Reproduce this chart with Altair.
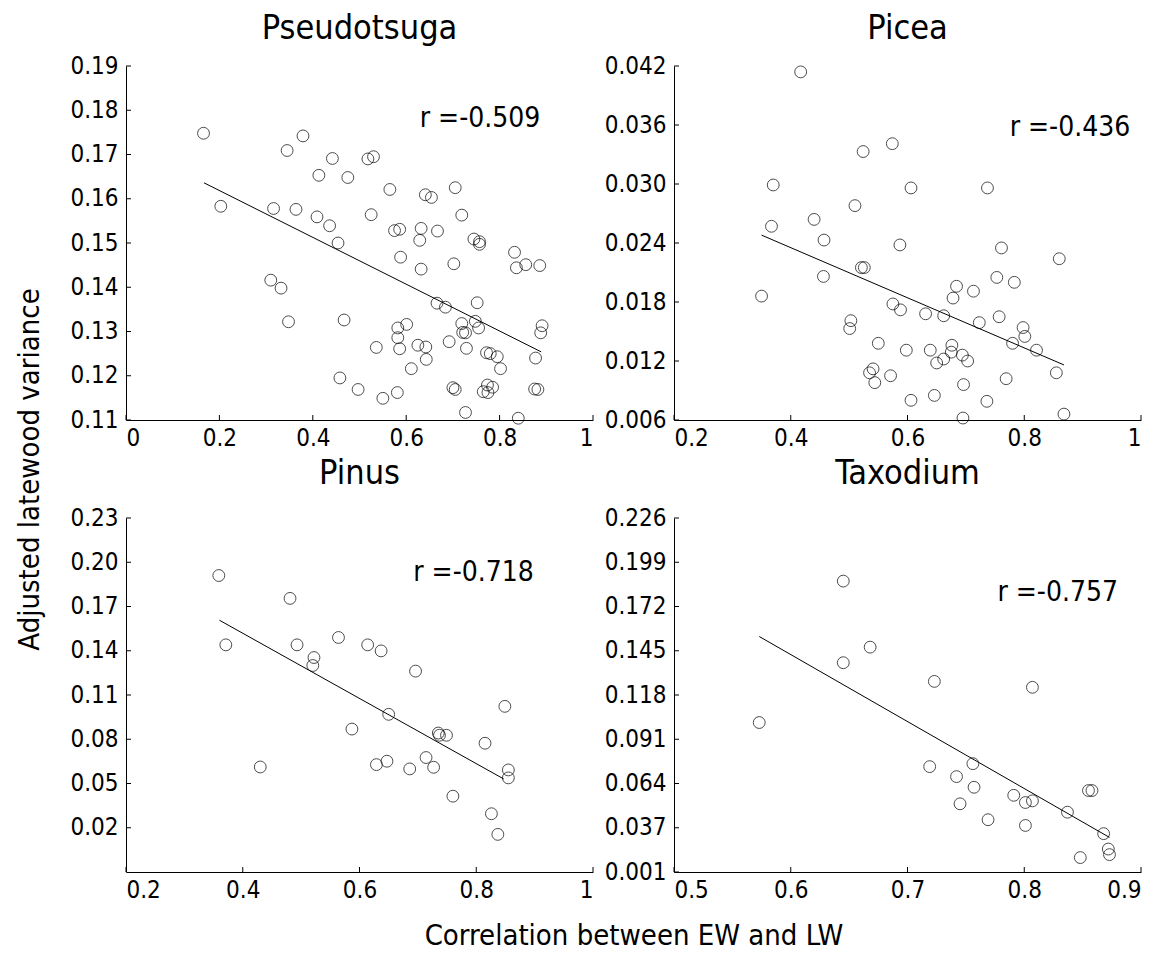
import altair as alt
import pandas as pd

FONT = "DejaVu Sans Condensed"

# ---- Pseudotsuga ----
pseu_x = [0.166, 0.203, 0.310, 0.332, 0.348, 0.316, 0.345, 0.379, 0.364, 0.409,
          0.413, 0.442, 0.436, 0.454, 0.475, 0.467, 0.458, 0.497, 0.518, 0.530,
          0.525, 0.536, 0.550, 0.565, 0.575, 0.586, 0.588, 0.582, 0.582, 0.586,
          0.581, 0.601, 0.611, 0.625, 0.642, 0.643, 0.632, 0.629, 0.632, 0.641,
          0.654, 0.667, 0.666, 0.684, 0.692, 0.705, 0.719, 0.702, 0.700, 0.705,
          0.727, 0.719, 0.721, 0.727, 0.729, 0.745, 0.757, 0.757, 0.752, 0.748,
          0.755, 0.772, 0.780, 0.795, 0.802, 0.774, 0.785, 0.765, 0.775, 0.832,
          0.836, 0.856, 0.886, 0.877, 0.891, 0.888, 0.875, 0.882, 0.840]
pseu_y = [0.1748, 0.1583, 0.1416, 0.1398, 0.1322, 0.1578, 0.1709, 0.1742, 0.1576, 0.1559,
          0.1653, 0.1691, 0.1539, 0.1500, 0.1648, 0.1326, 0.1195, 0.1169, 0.1690, 0.1695,
          0.1564, 0.1264, 0.1149, 0.1621, 0.1528, 0.1531, 0.1468, 0.1308, 0.1286, 0.1261,
          0.1162, 0.1316, 0.1216, 0.1269, 0.1265, 0.1237, 0.1533, 0.1506, 0.1441, 0.1609,
          0.1603, 0.1527, 0.1364, 0.1355, 0.1277, 0.1625, 0.1563, 0.1453, 0.1173, 0.1169,
          0.1117, 0.1318, 0.1298, 0.1297, 0.1262, 0.1509, 0.1503, 0.1497, 0.1365, 0.1323,
          0.1308, 0.1252, 0.1250, 0.1243, 0.1216, 0.1179, 0.1174, 0.1164, 0.1162, 0.1479,
          0.1444, 0.1451, 0.1449, 0.1240, 0.1313, 0.1297, 0.1170, 0.1169, 0.1104]
pseu_fit_x = [0.167, 0.889]
pseu_fit_y = [0.1636, 0.1254]

# ---- Picea ----
picea_x = [0.417, 0.370, 0.367, 0.350, 0.440, 0.457, 0.456, 0.510, 0.524, 0.521,
           0.526, 0.503, 0.501, 0.550, 0.541, 0.535, 0.544, 0.574, 0.587, 0.575,
           0.588, 0.571, 0.606, 0.598, 0.606, 0.631, 0.639, 0.650, 0.646, 0.662,
           0.662, 0.676, 0.675, 0.684, 0.678, 0.694, 0.703, 0.696, 0.695, 0.713,
           0.723, 0.737, 0.736, 0.761, 0.753, 0.757, 0.769, 0.783, 0.780, 0.798,
           0.801, 0.821, 0.860, 0.855, 0.868]
picea_y = [0.0414, 0.0299, 0.0257, 0.0186, 0.0264, 0.0243, 0.0206, 0.0278, 0.0333, 0.0215,
           0.0215, 0.0161, 0.0153, 0.0138, 0.0112, 0.0108, 0.0098, 0.0341, 0.0238, 0.0178,
           0.0172, 0.0105, 0.0296, 0.0131, 0.0080, 0.0168, 0.0131, 0.0118, 0.0085, 0.0166,
           0.0122, 0.0136, 0.0129, 0.0196, 0.0184, 0.0126, 0.0120, 0.0096, 0.0062, 0.0191,
           0.0159, 0.0296, 0.0079, 0.0235, 0.0205, 0.0165, 0.0102, 0.0200, 0.0138, 0.0154,
           0.0145, 0.0131, 0.0224, 0.0108, 0.0066]
picea_fit_x = [0.350, 0.868]
picea_fit_y = [0.0248, 0.0116]

# ---- Pinus ----
pinus_x = [0.359, 0.371, 0.430, 0.481, 0.493, 0.522, 0.520, 0.564, 0.587, 0.614,
           0.637, 0.650, 0.629, 0.647, 0.686, 0.696, 0.714, 0.727, 0.735, 0.737,
           0.749, 0.760, 0.815, 0.826, 0.837, 0.849, 0.855, 0.855]
pinus_y = [0.191, 0.144, 0.0612, 0.1755, 0.144, 0.1354, 0.130, 0.149, 0.0869, 0.144,
           0.1399, 0.0969, 0.0628, 0.0651, 0.0599, 0.1262, 0.0676, 0.0610, 0.0842, 0.0827,
           0.0827, 0.0414, 0.0773, 0.0295, 0.0155, 0.1023, 0.0592, 0.0538]
pinus_fit_x = [0.360, 0.847]
pinus_fit_y = [0.1607, 0.0531]

# ---- Taxodium ----
taxo_x = [0.573, 0.645, 0.645, 0.668, 0.723, 0.807, 0.719, 0.756, 0.742, 0.757,
          0.745, 0.769, 0.791, 0.801, 0.807, 0.801, 0.837, 0.855, 0.858, 0.868,
          0.872, 0.873, 0.848]
taxo_y = [0.1012, 0.1875, 0.1377, 0.1472, 0.1263, 0.1227, 0.0743, 0.0761, 0.0682, 0.0617,
          0.0516, 0.0419, 0.0568, 0.0524, 0.0534, 0.0384, 0.0465, 0.0597, 0.0597, 0.0334,
          0.0240, 0.0206, 0.0188]
taxo_fit_x = [0.573, 0.873]
taxo_fit_y = [0.1537, 0.0311]

# correlation labels
r_values = {"Pseudotsuga": -0.509, "Picea": -0.436, "Pinus": -0.718, "Taxodium": -0.757}

X_TITLE = "Correlation between EW and LW"
Y_TITLE = "Adjusted latewood variance"

W, H = 467, 354
GAP_COL, GAP_ROW = 81, 98
TICK = 5


def panel(name, xs, ys, fx, fy, xdom, ydom, xticks, yticks, xfmt, yfmt,
          rpos, ylabel_expr=None, xtitle=None, ytitle=None, title_offset=8):
    pts = pd.DataFrame({"x": xs, "y": ys})
    fit = pd.DataFrame({"x": fx, "y": fy})
    xs_ = alt.Scale(domain=xdom, nice=False, zero=False)
    ys_ = alt.Scale(domain=ydom, nice=False, zero=False)
    ax_common = dict(grid=False, tickSize=0, domainColor="black",
                     domainWidth=1, labelColor="black", labelFont=FONT,
                     labelFontSize=24, titleFont=FONT, titleFontSize=29,
                     titleFontWeight="normal", titleColor="black")
    xkw = dict(values=xticks, format=xfmt, labelPadding=6, **ax_common)
    if xtitle:
        # shared title centred under both columns
        xkw.update(title=xtitle, titleX=(2 * W + GAP_COL) / 2, titleY=72,
                   titleAnchor="middle", titleAlign="center",
                   titleBaseline="alphabetic")
    else:
        xkw["title"] = None
    ykw = dict(values=yticks, format=yfmt, labelPadding=8, **ax_common)
    if ytitle:
        # shared title centred beside both rows
        ykw.update(title=ytitle, titleAngle=270, titleX=-88,
                   titleY=(2 * H + GAP_ROW) / 2, titleAlign="center",
                   titleBaseline="alphabetic")
    else:
        ykw["title"] = None
    if ylabel_expr:
        ykw["labelExpr"] = ylabel_expr
    X = alt.X("x:Q", scale=xs_, axis=alt.Axis(**xkw))
    Y = alt.Y("y:Q", scale=ys_, axis=alt.Axis(**ykw))

    dots = alt.Chart(pts).mark_point(shape="circle", filled=False, size=140,
                                      color="black", strokeWidth=1).encode(x=X, y=Y)
    line = alt.Chart(fit).mark_line(color="black", strokeWidth=1).encode(x=X, y=Y)
    xt = alt.Chart(pd.DataFrame({"x": xticks})).mark_rule(color="black").encode(
        x=X, y=alt.value(H), y2=alt.value(H - TICK))
    yt = alt.Chart(pd.DataFrame({"y": yticks})).mark_rule(color="black").encode(
        y=Y, x=alt.value(0), x2=alt.value(TICK))
    lab = pd.DataFrame({"x": [rpos[0]], "y": [rpos[1]],
                        "t": [f"r =-{abs(r_values[name]):.3f}"]})
    txt = alt.Chart(lab).mark_text(align="left", baseline="middle", font=FONT,
                                   fontSize=28, color="black").encode(
        x=X, y=Y, text="t:N")
    return alt.layer(dots, line, xt, yt, txt).properties(
        width=W, height=H,
        title=alt.TitleParams(name, font=FONT, fontSize=34, fontWeight="normal",
                              color="black", anchor="middle",
                              offset=title_offset),
    )


p1 = panel("Pseudotsuga", pseu_x, pseu_y, pseu_fit_x, pseu_fit_y,
           [0, 1], [0.11, 0.19], [0, 0.2, 0.4, 0.6, 0.8, 1],
           [0.11, 0.12, 0.13, 0.14, 0.15, 0.16, 0.17, 0.18, 0.19],
           "~g", ".2f", (0.629, 0.178), ytitle=Y_TITLE)
p2 = panel("Picea", picea_x, picea_y, picea_fit_x, picea_fit_y,
           [0.2, 1], [0.006, 0.042], [0.2, 0.4, 0.6, 0.8, 1],
           [0.006, 0.012, 0.018, 0.024, 0.030, 0.036, 0.042],
           "~g", ".3f", (0.775, 0.0357))
p3 = panel("Pinus", pinus_x, pinus_y, pinus_fit_x, pinus_fit_y,
           [0.2, 1], [-0.01, 0.23], [0.2, 0.4, 0.6, 0.8, 1],
           [0.02, 0.05, 0.08, 0.11, 0.14, 0.17, 0.20, 0.23],
           "~g", ".2f", (0.692, 0.1924), xtitle=X_TITLE, title_offset=15)
p4 = panel("Taxodium", taxo_x, taxo_y, taxo_fit_x, taxo_fit_y,
           [0.5, 0.9], [0.010, 0.226], [0.5, 0.6, 0.7, 0.8, 0.9],
           [0.010, 0.037, 0.064, 0.091, 0.118, 0.145, 0.172, 0.199, 0.226],
           "~g", ".3f", (0.777, 0.180),
           ylabel_expr="datum.label == '0.010' ? '0.001' : datum.label",
           title_offset=15)

chart = alt.concat(
    p1, p2, p3, p4, columns=2,
    spacing={"row": GAP_ROW, "column": GAP_COL}, bounds="flush",
).properties(
    padding={"left": 15, "top": 12, "right": 10, "bottom": 10},
    background="white",
).configure_view(strokeWidth=0, stroke="transparent")

chart.save("out.html", embed_options={"renderer": "svg", "actions": False})
